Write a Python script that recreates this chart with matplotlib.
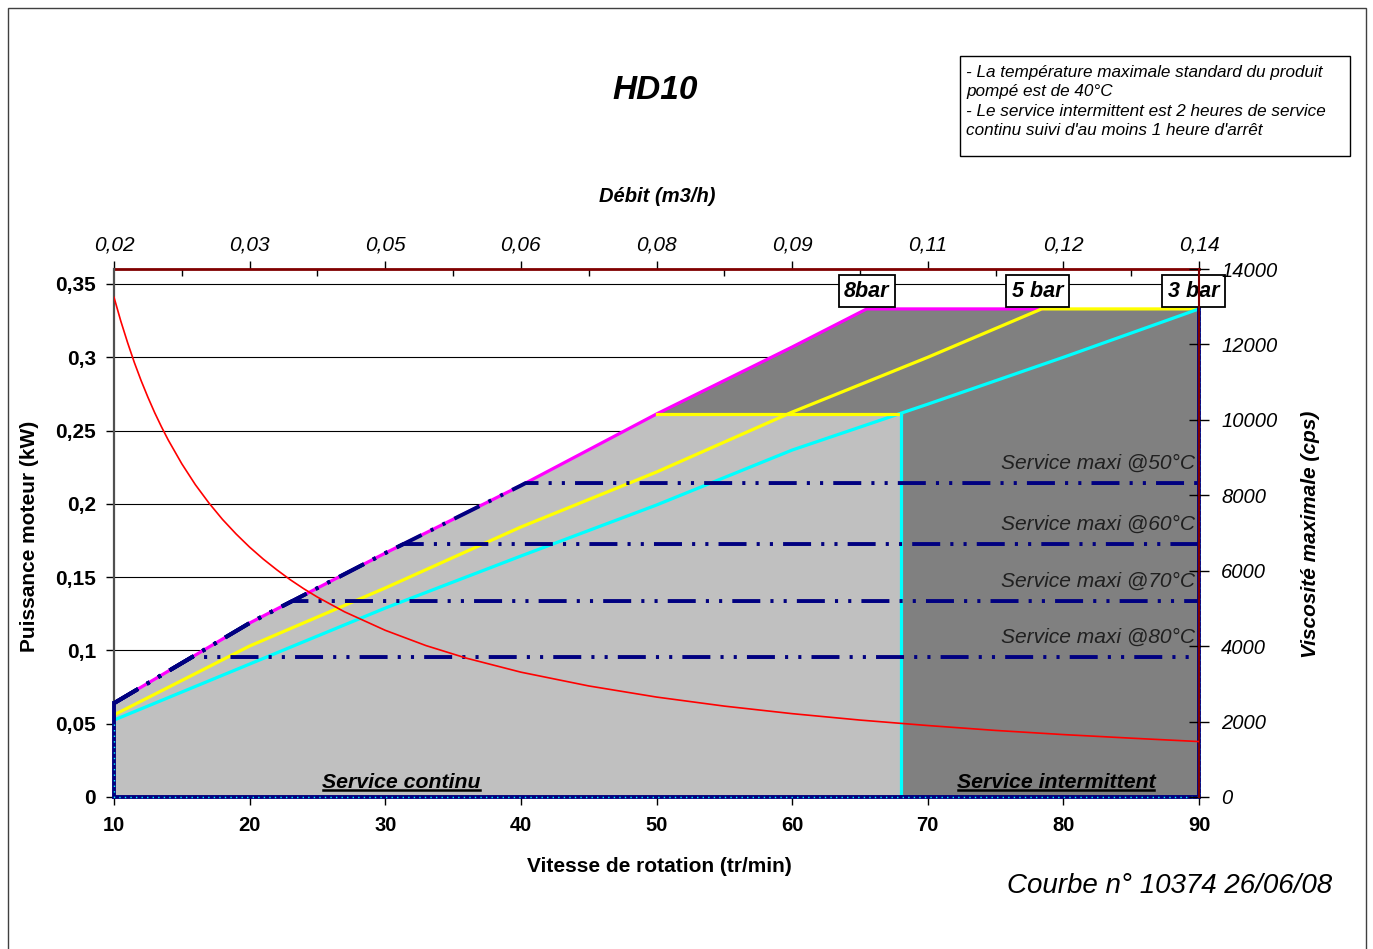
import matplotlib
matplotlib.use("Agg")
import matplotlib.pyplot as plt
from matplotlib.patches import Polygon, Rectangle
from matplotlib.lines import Line2D
import numpy as np

plt.rcParams.update({'font.family': ['Liberation Sans', 'DejaVu Sans'], 'font.size': 14})

# courbes de puissance (kW) en fonction de la vitesse (tr/min)
speed_8bar = [10, 20, 30, 40, 50, 60, 65.5]
power_8bar = [0.064, 0.1187, 0.1664, 0.2125, 0.2613, 0.307, 0.333]
speed_5bar = [10, 20, 30, 40, 50, 60, 70, 78.4]
power_5bar = [0.056, 0.103, 0.1426, 0.1842, 0.2217, 0.2626, 0.300, 0.333]
speed_3bar = [10, 20, 30, 40, 50, 60, 70, 80, 90]
power_3bar = [0.0525, 0.0907, 0.1289, 0.1644, 0.1992, 0.2367, 0.268, 0.300, 0.333]
bar_labels = ["8bar", "5 bar", "3 bar"]

n_min, n_max = 10, 90
p_max = 0.333        # puissance maxi
p_cont = 0.2613      # limite service continu
n_cont = 68          # vitesse limite service continu

service_temps = ["50", "60", "70", "80"]
service_power = [0.2142, 0.1726, 0.1337, 0.0955]

# viscosite maximale (cps)
visc_speed = [10, 10.5, 11, 11.5, 12, 12.5, 13, 13.5, 14, 15, 16, 17, 18, 19, 20, 21, 22, 23,
              24, 25, 27, 30, 33, 36, 40, 45, 50, 55, 60, 65, 70, 75, 80, 85, 90]
visc_cps = [13250, 12620, 12050, 11520, 11040, 10600, 10190, 9815, 9465, 8835, 8280, 7795,
            7360, 6975, 6625, 6310, 6025, 5760, 5520, 5300, 4910, 4420, 4015, 3680, 3310,
            2945, 2650, 2410, 2210, 2040, 1895, 1765, 1655, 1560, 1470]

speed_ticks = [10, 20, 30, 40, 50, 60, 70, 80, 90]
flow_labels = ["0,02", "0,03", "0,05", "0,06", "0,08", "0,09", "0,11", "0,12", "0,14"]
power_ticks = [0, 0.05, 0.1, 0.15, 0.2, 0.25, 0.3, 0.35]
power_labels = ["0", "0,05", "0,1", "0,15", "0,2", "0,25", "0,3", "0,35"]
visc_ticks = [0, 2000, 4000, 6000, 8000, 10000, 12000, 14000]

navy = "#000080"
dashdotdot = (0, (7.2, 2.6, 0.8, 2.6, 0.8, 2.6))

fig = plt.figure(figsize=(13.73, 9.49), dpi=100)
ax = fig.add_axes([114/1373, 1-797/949, (1199-114)/1373, (797-269)/949])
ax.set_xlim(n_min, n_max)
ax.set_ylim(0, 0.35*528/513)

# zones de service
n8 = np.array(speed_8bar)
p8 = np.array(power_8bar)
m = n8 <= 50
light = [(n_min, 0)] + list(zip(n8[m], p8[m])) + [(n_cont, p_cont), (n_cont, 0)]
dark = [(n_cont, 0), (n_cont, p_cont)] + list(zip(n8[n8 >= 50], p8[n8 >= 50])) + [(n_max, p_max), (n_max, 0)]
ax.add_patch(Polygon(light, closed=True, fc="#C0C0C0", ec="none", zorder=1))
ax.add_patch(Polygon(dark, closed=True, fc="#808080", ec="none", zorder=1))

# courbes pression
ax.plot(speed_8bar + [speed_5bar[-1]], power_8bar + [p_max], color="#FF00FF", lw=2.3, zorder=3)
ax.plot(speed_5bar + [n_max], power_5bar + [p_max], color="#FFFF00", lw=2.3, zorder=3)
ax.plot(speed_3bar, power_3bar, color="#00FFFF", lw=2.3, zorder=3)
ax.plot([50, n_cont], [p_cont, p_cont], color="#FFFF00", lw=2.3, zorder=3)
ax.plot([n_cont, n_cont], [0, p_cont], color="#00FFFF", lw=2.3, zorder=3)

# bordures
ax.plot([n_min, n_min, n_max, n_max], [power_8bar[0], 0, 0, p_max], color=navy, lw=2.8, zorder=4,
        solid_joinstyle="miter", clip_on=False)
ax.plot([n_min, n_min, n_max, n_max], [0.05, 0, 0, p_max], color="#00FFFF", lw=1.0, ls=(0, (1, 3)),
        zorder=5, clip_on=False)

# lignes service maxi
for t, p in zip(service_temps, service_power):
    n_int = np.interp(p, p8, n8)
    xs = list(n8[p8 < p]) + [n_int, n_max]
    ys = list(p8[p8 < p]) + [p, p]
    ax.plot(xs, ys, color=navy, lw=2.8, ls=dashdotdot, zorder=4)
    ax.annotate("Service maxi @%s°C" % t, xy=(89.7, p), xytext=(0, 14), textcoords="offset points",
                ha="right", va="center", fontsize=15.1, fontstyle="italic", color="#202020", zorder=6)

# etiquettes pressions
for n_end, lab in zip([speed_8bar[-1], speed_5bar[-1] - 0.3, speed_3bar[-1] - 0.4], bar_labels):
    ax.text(n_end, 0.345, lab, ha="center", va="center", fontsize=15.5, fontweight="bold",
            fontstyle="italic", zorder=7,
            bbox=dict(boxstyle="square,pad=0.25", fc="white", ec="black", lw=1.3))

t_cont = ax.text(31.2, 0.0096, "Service continu", ha="center", va="center", fontsize=15.3,
                 fontweight="bold", fontstyle="italic", zorder=6)
t_int = ax.text(79.45, 0.0096, "Service intermittent", ha="center", va="center", fontsize=15.3,
                fontweight="bold", fontstyle="italic", zorder=6)

# axes
ax.set_axisbelow(True)
ax.yaxis.grid(True, color="black", lw=0.8)
ax.set_yticks(power_ticks, labels=power_labels)
ax.set_xticks(speed_ticks)
ax.set_xticks(np.arange(15, 90, 10), minor=True)
ax.tick_params(axis="y", direction="out", length=6, width=1, pad=7, labelsize=15)
ax.tick_params(axis="x", which="major", direction="out", length=6, width=1, pad=8, labelsize=14.5)
ax.tick_params(axis="x", which="minor", direction="in", length=5, width=1)
for lab in ax.get_xticklabels() + ax.get_yticklabels():
    lab.set_fontweight("bold")
ax.spines["top"].set_visible(False)
ax.spines["right"].set_visible(False)
ax.spines["left"].set_color("#505050")
ax.spines["left"].set_linewidth(1.6)
ax.spines["bottom"].set_color("#505050")

top = ax.secondary_xaxis("top")
top.set_xticks(speed_ticks, labels=flow_labels)
top.set_xticks(np.arange(15, 90, 10), minor=True)
top.tick_params(which="major", direction="out", length=6, width=1, pad=4.5, labelsize=15)
top.tick_params(which="minor", direction="in", length=5, width=1)
for lab in top.get_xticklabels():
    lab.set_fontstyle("italic")
top.spines["top"].set_color("#800000")
top.spines["top"].set_linewidth(2)

ax2 = ax.twinx()
ax2.set_ylim(0, 14000)
ax2.plot(visc_speed, visc_cps, color="red", lw=1.2, zorder=5)
ax2.set_yticks(visc_ticks)
ax2.tick_params(axis="y", direction="inout", length=14, width=1, pad=9, labelsize=14.5)
for lab in ax2.get_yticklabels():
    lab.set_fontstyle("italic")
for s in ["top", "left", "bottom"]:
    ax2.spines[s].set_visible(False)
ax2.spines["right"].set_color("#800000")
ax2.spines["right"].set_linewidth(1.5)

# textes figure
fig.text(655/1373, 1-91/949, "HD10", ha="center", va="center", fontsize=24,
         fontweight="bold", fontstyle="italic")
fig.text(657/1373, 1-196/949, "Débit (m3/h)", ha="center", va="center", fontsize=14.5,
         fontweight="bold", fontstyle="italic")
fig.text(659/1373, 1-866/949, "Vitesse de rotation (tr/min)", ha="center", va="center",
         fontsize=15, fontweight="bold")
fig.text(30/1373, 1-536/949, "Puissance moteur (kW)", ha="center", va="center", rotation=90,
         fontsize=15, fontweight="bold")
fig.text(1311/1373, 1-534/949, "Viscosité maximale (cps)", ha="center", va="center", rotation=90,
         fontsize=15, fontweight="bold", fontstyle="italic")
fig.text(1170/1373, 1-886/949, "Courbe n° 10374 26/06/08", ha="center", va="center",
         fontsize=20, fontstyle="italic")

note = ("- La température maximale standard du produit\npompé est de 40°C\n"
        "- Le service intermittent est 2 heures de service\ncontinu suivi d'au moins 1 heure d'arrêt")
fig.text(966/1373, 1-65/949, note, ha="left", va="top", fontsize=12.3, fontstyle="italic",
         linespacing=1.36)
fig.patches.append(Rectangle((960/1373, 1-156/949), 390/1373, 100/949, transform=fig.transFigure,
                             fill=False, ec="black", lw=1))
fig.patches.append(Rectangle((8/1373, -0.01), 1358/1373, 1-8/949+0.01, transform=fig.transFigure,
                             fill=False, ec="#404040", lw=1, clip_on=False))

# soulignement
fig.canvas.draw()
r = fig.canvas.get_renderer()
inv = fig.transFigure.inverted()
for t in [t_cont, t_int]:
    bb = t.get_window_extent(r)
    (x0, y0), (x1, _) = inv.transform([(bb.x0 + 1, bb.y0 + 2), (bb.x1 - 1, bb.y0 + 2)])
    fig.lines.append(Line2D([x0, x1], [y0, y0], transform=fig.transFigure, color="black", lw=1.8))

fig.savefig("out.png", dpi=100)
